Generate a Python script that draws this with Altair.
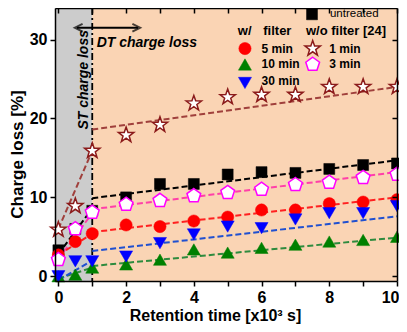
import altair as alt
import pandas as pd

# ---------------- data ----------------
x_vals = [0, 0.5, 1, 2, 3, 4, 5, 6, 7, 8, 9, 10]
untreated = [3.3, 6.0, 8.3, 10.0, 11.7, 11.7, 12.9, 13.2, 13.1, 13.6, 14.1, 14.3]
min1 = [5.9, 8.9, 15.9, 17.9, 19.2, 21.9, 22.7, 23.0, 23.0, 24.0, 24.0, 24.0]
min3 = [2.1, 6.0, 8.1, 9.1, 9.6, 10.2, 10.6, 11.0, 11.6, 11.9, 12.5, 12.9]
min5 = [2.7, 4.4, 5.4, 6.5, 6.3, 7.0, 7.5, 8.4, 8.4, 9.2, 9.4, 9.7]
min10 = [0.0, 0.2, 1.1, 1.5, 2.1, 3.4, 3.0, 3.6, 4.0, 4.4, 4.6, 5.0]
min30 = [0.0, 1.9, 1.9, 2.5, 4.2, 5.3, 6.3, 6.1, 7.2, 8.0, 8.0, 8.9]

# fitted dashed lines: short-term (0..1) and long-term (1..10)
st_x = [0, 1]
dt_x = [1, 10]
st_untreated = [2.8, 8.6]
st_min1 = [6.0, 15.9]
st_min3 = [2.2, 8.0]
st_min5 = [2.7, 5.4]
st_min10 = [-0.3, 1.1]
st_min30 = [-0.5, 2.0]
dt_untreated = [9.9, 14.7]
dt_min1 = [18.6, 24.0]
dt_min3 = [8.5, 13.2]
dt_min5 = [5.6, 10.0]
dt_min10 = [1.3, 4.9]
dt_min30 = [3.2, 7.6]

x_ticks = list(range(0, 11))
y_ticks = [0, 10, 20, 30]

FONT = "Liberation Sans"
W, H = 342, 273
xs = alt.Scale(domain=[-0.1, 10], nice=False, zero=False)
ys = alt.Scale(domain=[-0.6, 34], nice=False, zero=False)

STAR = ("M0,-1L0.235,-0.324L0.951,-0.309L0.380,0.124L0.588,0.809L0,0.4"
        "L-0.588,0.809L-0.380,0.124L-0.951,-0.309L-0.235,-0.324Z")
PENT = "M0,-1L0.951,-0.309L0.588,0.809L-0.588,0.809L-0.951,-0.309Z"
LARROW = "M1,-1L-1,0L1,1"
RARROW = "M-1,-1L1,0L-1,1"

# marker styles: shape, size, fill, stroke, strokeWidth
styles = {
    "untreated": ("square", 120, "#000000", "#000000", 0.5),
    "5 min": ("circle", 150, "#ff0000", "#ff0000", 0.5),
    "10 min": ("triangle-up", 170, "#008000", "#008000", 0.5),
    "30 min": ("triangle-down", 170, "#0000ff", "#0000ff", 0.5),
    "1 min": (STAR, 260, "#ffffff", "#8b1a1a", 1.5),
    "3 min": (PENT, 210, "#ffffff", "#ff00ff", 1.5),
}
line_colors = {
    "untreated": "#000000",
    "1 min": "#a0403c",
    "3 min": "#ff40a8",
    "5 min": "#ff2020",
    "10 min": "#2e8b3e",
    "30 min": "#2050d0",
}

# ---------------- background regions ----------------
bg_df = pd.DataFrame({"x1": [-0.1, 1], "x2": [1, 10], "c": ["#cccccc", "#fad4b4"]})
bg = alt.Chart(bg_df).mark_rect().encode(
    x=alt.X("x1:Q", scale=xs, axis=alt.Axis(
        orient="bottom", values=x_ticks,
        labelExpr="datum.value % 2 == 0 ? format(datum.value, 'd') : ''",
        tickSize=5, tickWidth=1.5, tickColor="black", domainColor="black",
        domainWidth=1.5, labelFont=FONT, labelFontSize=16, labelFontWeight="bold",
        labelColor="black", labelPadding=3, labelFlush=1, labelFlushOffset=2,
        labelOverlap=False, grid=False, zindex=1,
        title="Retention time [x10³ s]", titleFont=FONT, titleFontSize=16,
        titleFontWeight="bold", titleColor="black", titleX=160, titleY=39,
        titleBaseline="alphabetic", titleAlign="center")),
    x2="x2:Q",
    color=alt.Color("c:N", scale=None),
)
# invisible layer hosting the y main axis
yaxis_df = pd.DataFrame({"x": [0], "y": [0]})
yaxis_layer = alt.Chart(yaxis_df).mark_point(opacity=0).encode(
    x=alt.X("x:Q", scale=xs, axis=None),
    y=alt.Y("y:Q", scale=ys, axis=alt.Axis(
        orient="left", values=y_ticks, tickSize=5, tickWidth=1.5,
        tickColor="black", domainColor="black", domainWidth=1.5,
        labelFont=FONT, labelFontSize=16, labelFontWeight="bold",
        labelColor="black", labelPadding=3, grid=False, zindex=1,
        title="Charge loss [%]", titleFont=FONT, titleFontSize=17,
        titleFontWeight="bold", titleColor="black", titleAngle=270,
        titleX=-33, titleY=146, titleBaseline="alphabetic", titleAlign="center")),
)
# invisible layer hosting the top/right (inward-tick) frame axes
frame_layer = alt.Chart(yaxis_df).mark_point(opacity=0).encode(
    x=alt.X("x:Q", scale=xs, axis=alt.Axis(
        orient="bottom", offset=-H, values=x_ticks, labels=False, tickSize=5,
        tickWidth=1.5, tickColor="black", domainColor="black", domainWidth=1.5,
        grid=False, zindex=1, title="")),
    y=alt.Y("y:Q", scale=ys, axis=alt.Axis(
        orient="left", offset=-W, values=y_ticks, labels=False, tickSize=5,
        tickWidth=1.5, tickColor="black", domainColor="black", domainWidth=1.5,
        grid=False, zindex=1, title="")),
)

vline = alt.Chart(pd.DataFrame({"x": [1]})).mark_rule(
    color="black", strokeWidth=1.8, strokeDash=[7, 3, 2, 3]
).encode(x=alt.X("x:Q", scale=xs, axis=None))

# ---------------- fit lines ----------------
fits = [
    ("untreated", st_untreated, dt_untreated),
    ("1 min", st_min1, dt_min1),
    ("3 min", st_min3, dt_min3),
    ("5 min", st_min5, dt_min5),
    ("10 min", st_min10, dt_min10),
    ("30 min", st_min30, dt_min30),
]
fit_layers = []
for name, st, dt in fits:
    for xx, yy in ((st_x, st), (dt_x, dt)):
        d = pd.DataFrame({"x": xx, "y": yy})
        fit_layers.append(
            alt.Chart(d).mark_line(color=line_colors[name], strokeWidth=2,
                                   strokeDash=[6, 3], clip=True).encode(
                x=alt.X("x:Q", scale=xs, axis=None),
                y=alt.Y("y:Q", scale=ys, axis=None)))

# ---------------- markers ----------------
def pts(df, name):
    shape, size, fill, stroke, sw = styles[name]
    return alt.Chart(df).mark_point(
        shape=shape, size=size, filled=True, fill=fill, stroke=stroke,
        strokeWidth=sw, opacity=1, fillOpacity=1, clip=False).encode(
        x=alt.X("x:Q", scale=xs, axis=None),
        y=alt.Y("y:Q", scale=ys, axis=None))

series = [("untreated", untreated), ("5 min", min5), ("10 min", min10),
          ("30 min", min30), ("1 min", min1), ("3 min", min3)]
marker_layers = [pts(pd.DataFrame({"x": x_vals, "y": v}), n) for n, v in series]

# ---------------- annotations ----------------
def txt(df, size, weight="bold", style="normal", angle=0, align="left"):
    return alt.Chart(df).mark_text(
        font=FONT, fontSize=size, fontWeight=weight, fontStyle=style,
        angle=angle, align=align, baseline="middle", color="black").encode(
        x=alt.X("x:Q", scale=xs, axis=None),
        y=alt.Y("y:Q", scale=ys, axis=None),
        text="t:N")

arrow_df = pd.DataFrame({"x": [0.55], "x2": [2.35], "y": [31.5]})
arrow = alt.Chart(arrow_df).mark_rule(color="black", strokeWidth=2).encode(
    x=alt.X("x:Q", scale=xs, axis=None), x2="x2:Q",
    y=alt.Y("y:Q", scale=ys, axis=None))
head_l = alt.Chart(pd.DataFrame({"x": [0.6], "y": [31.5]})).mark_point(
    shape=LARROW, size=60, filled=False, stroke="black", strokeWidth=2).encode(
    x=alt.X("x:Q", scale=xs, axis=None), y=alt.Y("y:Q", scale=ys, axis=None))
head_r = alt.Chart(pd.DataFrame({"x": [2.3], "y": [31.5]})).mark_point(
    shape=RARROW, size=60, filled=False, stroke="black", strokeWidth=2).encode(
    x=alt.X("x:Q", scale=xs, axis=None), y=alt.Y("y:Q", scale=ys, axis=None))

dt_text = txt(pd.DataFrame({"x": [1.13], "y": [29.6], "t": ["DT charge loss"]}),
              14, style="italic")
st_text = txt(pd.DataFrame({"x": [0.76], "y": [24.9], "t": ["ST charge loss"]}),
              14, style="italic", angle=270, align="center")

# legend (hand-built, two columns)
leg_sym = [
    ("untreated", 7.49, 33.2),
    ("5 min", 5.51, 28.86),
    ("10 min", 5.51, 26.84),
    ("30 min", 5.51, 24.5),
    ("1 min", 7.51, 28.86),
    ("3 min", 7.51, 26.84),
]
leg_sym_layers = [pts(pd.DataFrame({"x": [lx], "y": [ly]}), n) for n, lx, ly in leg_sym]
leg_untreated = txt(pd.DataFrame({"x": [8.02], "y": [33.2], "t": ["untreated"]}),
                    11.5, weight="normal")
leg_head = txt(pd.DataFrame({"x": [5.3, 6.05, 7.31], "y": [31.05] * 3,
                             "t": ["w/", "filter", "w/o filter [24]"]}), 13)
leg_items = txt(pd.DataFrame({"x": [6.0, 6.0, 6.0, 8.0, 8.0],
                              "y": [28.86, 26.84, 24.7, 28.86, 26.84],
                              "t": ["5 min", "10 min", "30 min", "1 min", "3 min"]}), 12)

chart = alt.layer(
    bg, yaxis_layer, frame_layer, vline, *fit_layers, *marker_layers,
    arrow, head_l, head_r, dt_text, st_text,
    *leg_sym_layers, leg_untreated, leg_head, leg_items,
).resolve_axis(x="independent", y="independent").properties(
    width=W, height=H,
    autosize=alt.AutoSizeParams(type="none"),
    padding={"left": 47, "top": 0, "right": 2, "bottom": 43},
).configure_view(stroke="transparent")

chart.save("out.html", embed_options={"renderer": "svg", "actions": False})
